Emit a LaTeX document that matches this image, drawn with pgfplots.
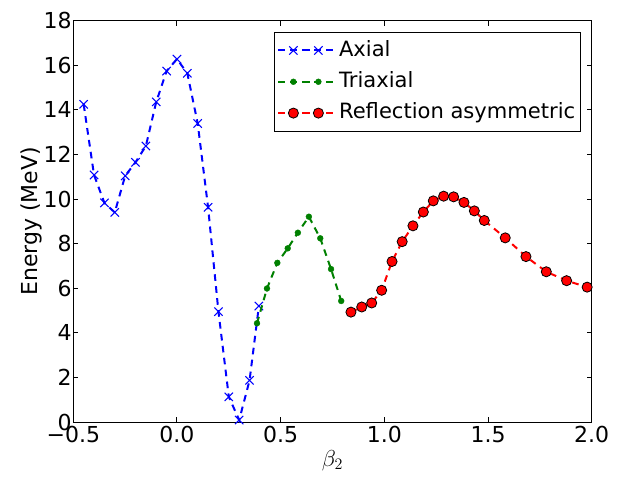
\documentclass[border=0pt]{standalone}
\usepackage{fontspec}
\setmainfont{DejaVu Sans}
\usepackage{pgfplots}
\pgfplotsset{compat=1.18}
\definecolor{mblue}{RGB}{0,0,255}
\definecolor{mgreen}{RGB}{0,128,0}
\definecolor{mred}{RGB}{255,0,0}
\begin{document}
\begin{tikzpicture}
\begin{axis}[
  name=ax,
  scale only axis,
  width=388.8pt, height=301pt,
  xmin=-0.5, xmax=2.0, ymin=0, ymax=18,
  xtick={-0.5,0,0.5,1.0,1.5,2.0},
  xticklabels={−0.5,0.0,0.5,1.0,1.5,2.0},
  ytick={0,2,...,18},
  tick align=inside,
  major tick length=3.75pt,
  minor tick num=0,
  xtick pos=both, ytick pos=both,
  axis line style={line width=0.75pt},
  every tick/.style={line width=0.75pt, black},
  /pgf/number format/assume math mode=true,
  ticklabel style={font=\fontsize{16.5}{19}\selectfont},
  yticklabel style={inner sep=1pt},
  xticklabel style={inner sep=1pt, yshift=-2pt},
  label style={font=\fontsize{16.5}{19}\selectfont},
  xlabel={$\beta_2$},
  ylabel={Energy (MeV)},
  ylabel style={yshift=-3pt},
  xlabel style={yshift=-1pt},
  clip mode=individual,
  legend style={font=\fontsize{15.8}{18}\selectfont, draw=black, line width=0.6pt,
    at={(0.9794,0.9726)}, anchor=north east, inner xsep=2pt, inner ysep=4.5pt,
    row sep=5pt, nodes={inner sep=2pt, text height=11.5pt, text depth=3pt}},
  legend cell align=left,
  legend image code/.code={
    \path (-8.4pt,0pt) -- (34.5pt,0pt);
    \draw[#1,mark=none,solid] (9.4pt,0pt) -- (15.4pt,0pt);
    \draw[#1] plot[only marks] coordinates {(3pt,0pt) (21.75pt,0pt)};
  },
]
\addplot[color=mblue, line width=1.5pt, dash pattern=on 5pt off 4pt,
  mark=x, mark size=4.4pt, mark options={solid, line width=0.8pt}]
coordinates {
(-0.45,14.25) (-0.40,11.08) (-0.35,9.83) (-0.30,9.40) (-0.25,11.04)
(-0.20,11.65) (-0.15,12.38) (-0.10,14.36) (-0.05,15.74) (0.00,16.28)
(0.05,15.64) (0.10,13.39) (0.15,9.63) (0.20,4.95) (0.25,1.13)
(0.30,0.09) (0.35,1.87) (0.395,5.20)
};
\addlegendentry{Axial}
\addplot[color=mgreen, line width=1.5pt, dash pattern=on 5pt off 4pt,
  mark=*, mark size=2.2pt, mark options={solid, fill=mgreen, draw=mgreen, line width=0.3pt}]
coordinates {
(0.386,4.43) (0.434,5.99) (0.484,7.14) (0.534,7.79) (0.583,8.49)
(0.636,9.21) (0.691,8.24) (0.743,6.86) (0.792,5.43)
};
\addlegendentry{Triaxial}
\addplot[color=mred, line width=1.5pt, dash pattern=on 5pt off 4pt,
  mark=*, mark size=3.8pt, mark options={solid, fill=mred, draw=black, line width=0.6pt}]
coordinates {
(0.839,4.93) (0.891,5.16) (0.939,5.34) (0.987,5.91) (1.037,7.20)
(1.086,8.09) (1.138,8.80) (1.188,9.42) (1.236,9.92) (1.286,10.13)
(1.334,10.10) (1.384,9.85) (1.434,9.47) (1.482,9.04) (1.583,8.26)
(1.683,7.42) (1.781,6.74) (1.879,6.34) (1.978,6.05)
};
\addlegendentry{Reflection asymmetric}
\end{axis}
\pgfresetboundingbox
\path ([xshift=-54.975pt,yshift=-41.25pt]ax.south west) rectangle ([xshift=23.475pt,yshift=15.525pt]ax.north east);
\end{tikzpicture}
\end{document}
